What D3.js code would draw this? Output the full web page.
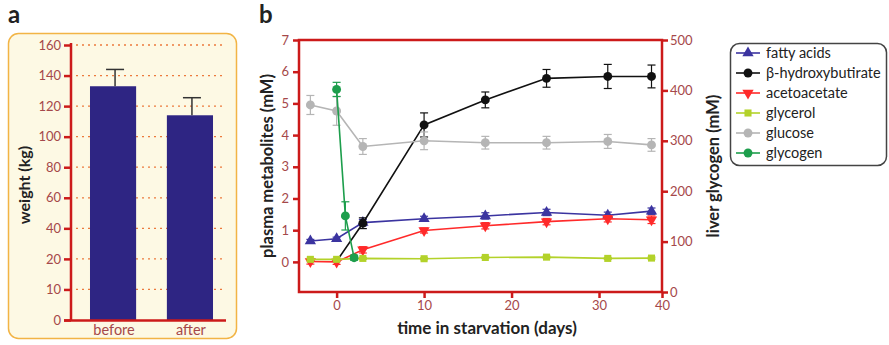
<!DOCTYPE html>
<html>
<head>
<meta charset="utf-8">
<script src="https://cdn.jsdelivr.net/npm/d3@7"></script>
<style>
  body { margin: 0; background: #fff; }
  text { font-family: Lato, "Open Sans", sans-serif; }
</style>
</head>
<body>
<div id="chart"></div>
<script>
/***** Data *****/
// panel a
const groups      = ["before", "after"];
const weightMean  = [133, 114];
const weightErr   = [11, 11.5];
const weightTicks = [160, 140, 120, 100, 80, 60, 40, 20, 0, -20];
const weightTickLabels = ["160", "140", "120", "100", "80", "60", "40", "20", "10", "0"];

// panel b
const days      = [-3, 0, 3, 10, 17, 24, 31, 36];
const daysBhb   = [0, 3, 10, 17, 24, 31, 36];
const daysGlyco = [0, 1, 2];
const fattyAcids = [0.66, 0.73, 1.24, 1.36, 1.45, 1.56, 1.47, 1.60];
const fattyErr   = [0.05, 0.05, 0.10, 0.08, 0.10, 0.10, 0.10, 0.10];
const bhb        = [0.02, 1.22, 4.32, 5.11, 5.79, 5.85, 5.85];
const bhbErr     = [0, 0.17, 0.38, 0.25, 0.28, 0.38, 0.36];
const aceto      = [0.01, 0.0, 0.38, 0.99, 1.14, 1.27, 1.36, 1.33];
const acetoErr   = [0.08, 0.08, 0.10, 0.08, 0.10, 0.10, 0.10, 0.12];
const glycerol   = [0.08, 0.08, 0.11, 0.10, 0.14, 0.15, 0.11, 0.12];
const glycerolErr= [0.03, 0.03, 0.03, 0.03, 0.03, 0.03, 0.03, 0.03];
const glucose    = [4.95, 4.76, 3.64, 3.82, 3.76, 3.76, 3.80, 3.69];
const glucoseErr = [0.30, 0.45, 0.25, 0.28, 0.20, 0.20, 0.22, 0.20];
const glycogen   = [402, 151, 68];
const glycogenErr= [14, 28, 5];

const xTickValues = [0, 10, 20, 30, 37.2];
const xTickLabels = ["0", "10", "20", "30", "40"];
const leftTicks  = [0, 1, 2, 3, 4, 5, 6, 7];
const rightTicks = [0, 100, 200, 300, 400, 500];

const series = [
  { name: "fatty acids",        x: days,      y: fattyAcids, e: fattyErr,    color: "#3b34a0", sym: d3.symbolTriangle, rot: 0,   axis: "L" },
  { name: "β-hydroxybutirate",  x: daysBhb,   y: bhb,        e: bhbErr,      color: "#111111", sym: d3.symbolCircle,   rot: 0,   axis: "L", hideFirst: true },
  { name: "acetoacetate",       x: days,      y: aceto,      e: acetoErr,    color: "#ff2a2a", sym: d3.symbolTriangle, rot: 180, axis: "L" },
  { name: "glycerol",           x: days,      y: glycerol,   e: glycerolErr, color: "#b3d22a", sym: d3.symbolSquare,   rot: 0,   axis: "L" },
  { name: "glucose",            x: days,      y: glucose,    e: glucoseErr,  color: "#b5b5b5", sym: d3.symbolCircle,   rot: 0,   axis: "L" },
  { name: "glycogen",           x: daysGlyco, y: glycogen,   e: glycogenErr, color: "#1d9e4c", sym: d3.symbolCircle,   rot: 0,   axis: "R" }
];

const RED = "#cc1a1a", TICK_TXT = "#a5484a";
const symSize = s => s === d3.symbolSquare ? 50 : (s === d3.symbolCircle ? 62 : 55);

const svg = d3.select("#chart").append("svg")
  .attr("width", 889).attr("height", 345);

/***** Panel a *****/
svg.append("text").attr("x", 8).attr("y", 23)
  .attr("font-size", 24).attr("font-weight", "bold").attr("fill", "#222").text("a");

svg.append("rect")
  .attr("x", 8.5).attr("y", 33.5).attr("width", 228).attr("height", 305).attr("rx", 10)
  .attr("fill", "#fdf9e4").attr("stroke", "#f2b445").attr("stroke-width", 1.5);

const yA = d3.scaleLinear().domain([-20, 160]).range([320, 45]);
const xA = d3.scaleBand().domain(groups).range([70, 233]).paddingInner(0.4).paddingOuter(0.26);

// dashed grid
svg.append("g").selectAll("line").data(weightTicks.slice(0, -1)).join("line")
  .attr("x1", 76).attr("x2", 226)
  .attr("y1", d => yA(d)).attr("y2", d => yA(d))
  .attr("stroke", "#ec7a3c").attr("stroke-width", 1.3).attr("stroke-dasharray", "2,4");

// bars
svg.append("g").selectAll("rect").data(groups).join("rect")
  .attr("x", d => xA(d)).attr("width", xA.bandwidth())
  .attr("y", (d, i) => yA(weightMean[i]))
  .attr("height", (d, i) => yA(-20) - yA(weightMean[i]))
  .attr("fill", "#2e2583");

// error bars
const gErrA = svg.append("g").attr("stroke", "#333").attr("stroke-width", 1.5);
groups.forEach((g, i) => {
  const cx = xA(g) + xA.bandwidth() / 2 + 2;
  gErrA.append("line").attr("x1", cx).attr("x2", cx)
    .attr("y1", yA(weightMean[i])).attr("y2", yA(weightMean[i] + weightErr[i]));
  gErrA.append("line").attr("x1", cx - 9).attr("x2", cx + 9)
    .attr("y1", yA(weightMean[i] + weightErr[i])).attr("y2", yA(weightMean[i] + weightErr[i]));
});

// y axis a
const axA = svg.append("g").attr("transform", "translate(71,0)")
  .call(d3.axisLeft(yA).tickValues(weightTicks).tickFormat((d, i) => weightTickLabels[i]).tickSize(7).tickPadding(3));
axA.select(".domain").attr("stroke", RED).attr("stroke-width", 2.5).attr("d", "M0,43V321");
axA.selectAll(".tick line").attr("stroke", RED).attr("stroke-width", 2.5);
axA.selectAll(".tick text").attr("fill", TICK_TXT).attr("font-size", 13).attr("font-family", "Lato, sans-serif");
svg.append("line").attr("x1", 64).attr("x2", 226).attr("y1", 320.5).attr("y2", 320.5)
  .attr("stroke", RED).attr("stroke-width", 2.5);

svg.append("g").selectAll("text").data(groups).join("text")
  .attr("x", d => xA(d) + xA.bandwidth() / 2 + 1).attr("y", 335)
  .attr("text-anchor", "middle").attr("font-size", 14.5).attr("fill", TICK_TXT).text(d => d);

svg.append("text").attr("transform", "translate(30,185) rotate(-90)")
  .attr("text-anchor", "middle").attr("font-size", 16).attr("font-weight", "bold").attr("fill", "#222")
  .text("weight (kg)");

/***** Panel b *****/
svg.append("text").attr("x", 259).attr("y", 23)
  .attr("font-size", 24).attr("font-weight", "bold").attr("fill", "#222").text("b");

const x  = d3.scaleLinear().domain([-4.3, 37.2]).range([299, 662]);
const yL = d3.scaleLinear().domain([-0.95, 7]).range([292, 40]);
const yR = d3.scaleLinear().domain([0, 500]).range([292, 40]);

function styleAxis(g) {
  g.select(".domain").remove();
  g.selectAll(".tick line").attr("stroke", RED).attr("stroke-width", 2.5);
  g.selectAll(".tick text").attr("fill", TICK_TXT).attr("font-size", 13).attr("font-family", "Lato, sans-serif");
}

svg.append("g").attr("transform", "translate(299,0)")
  .call(d3.axisLeft(yL).tickValues(leftTicks).tickFormat(d3.format("d")).tickSize(6).tickPadding(4))
  .call(styleAxis);
svg.append("g").attr("transform", "translate(662,0)")
  .call(d3.axisRight(yR).tickValues(rightTicks).tickFormat(d3.format("d")).tickSize(6).tickPadding(2))
  .call(styleAxis);
svg.append("g").attr("transform", "translate(0,292)")
  .call(d3.axisBottom(x).tickValues(xTickValues).tickFormat((d, i) => xTickLabels[i]).tickSize(6).tickPadding(3))
  .call(styleAxis);

svg.append("rect").attr("x", 299).attr("y", 40).attr("width", 363).attr("height", 252)
  .attr("fill", "none").attr("stroke", RED).attr("stroke-width", 2.5);

// series
const gSeries = svg.append("g");
series.forEach(s => {
  const yS = s.axis === "R" ? yR : yL;
  const pts = s.x.map((d, i) => ({ x: d, y: s.y[i], e: s.e[i] }));
  const g = gSeries.append("g");
  g.append("path").datum(pts)
    .attr("d", d3.line().x(d => x(d.x)).y(d => yS(d.y)))
    .attr("fill", "none").attr("stroke", s.color).attr("stroke-width", 1.6);
  const eb = g.append("g").attr("stroke", s.color).attr("stroke-width", 1.2);
  pts.filter(d => d.e > 0).forEach(d => {
    const cx = x(d.x), y1 = yS(d.y - d.e), y2 = yS(d.y + d.e);
    eb.append("line").attr("x1", cx).attr("x2", cx).attr("y1", y1).attr("y2", y2);
    eb.append("line").attr("x1", cx - 4).attr("x2", cx + 4).attr("y1", y1).attr("y2", y1);
    eb.append("line").attr("x1", cx - 4).attr("x2", cx + 4).attr("y1", y2).attr("y2", y2);
  });
  g.selectAll(".pt").data(s.hideFirst ? pts.slice(1) : pts).join("path")
    .attr("d", d3.symbol().type(s.sym).size(symSize(s.sym)))
    .attr("transform", d => `translate(${x(d.x)},${yS(d.y)}) rotate(${s.rot})`)
    .attr("fill", s.color);
});

// axis titles
svg.append("text").attr("x", 487).attr("y", 334).attr("text-anchor", "middle")
  .attr("font-size", 17).attr("font-weight", "bold").attr("fill", "#222").text("time in starvation (days)");
svg.append("text").attr("transform", "translate(273,166) rotate(-90)").attr("text-anchor", "middle")
  .attr("font-size", 16.5).attr("font-weight", "bold").attr("fill", "#222").text("plasma metabolites (mM)");
svg.append("text").attr("transform", "translate(719,166) rotate(-90)").attr("text-anchor", "middle")
  .attr("font-size", 16.5).attr("font-weight", "bold").attr("fill", "#222").text("liver glycogen (mM)");

// legend
const lg = svg.append("g").attr("transform", "translate(730,43)");
lg.append("rect").attr("x", 0.5).attr("y", 0.5).attr("width", 156).attr("height", 122).attr("rx", 9)
  .attr("fill", "#fff").attr("stroke", "#444").attr("stroke-width", 1.5);
series.forEach((s, i) => {
  const yy = 10 + i * 20;
  lg.append("line").attr("x1", 6).attr("x2", 30).attr("y1", yy).attr("y2", yy)
    .attr("stroke", s.color).attr("stroke-width", 1.6);
  lg.append("path").attr("d", d3.symbol().type(s.sym).size(symSize(s.sym)))
    .attr("transform", `translate(18,${yy}) rotate(${s.rot})`).attr("fill", s.color);
  lg.append("text").attr("x", 36).attr("y", yy + 4.5).attr("font-size", 14.5).attr("fill", "#222").text(s.name);
});
</script>
</body>
</html>
